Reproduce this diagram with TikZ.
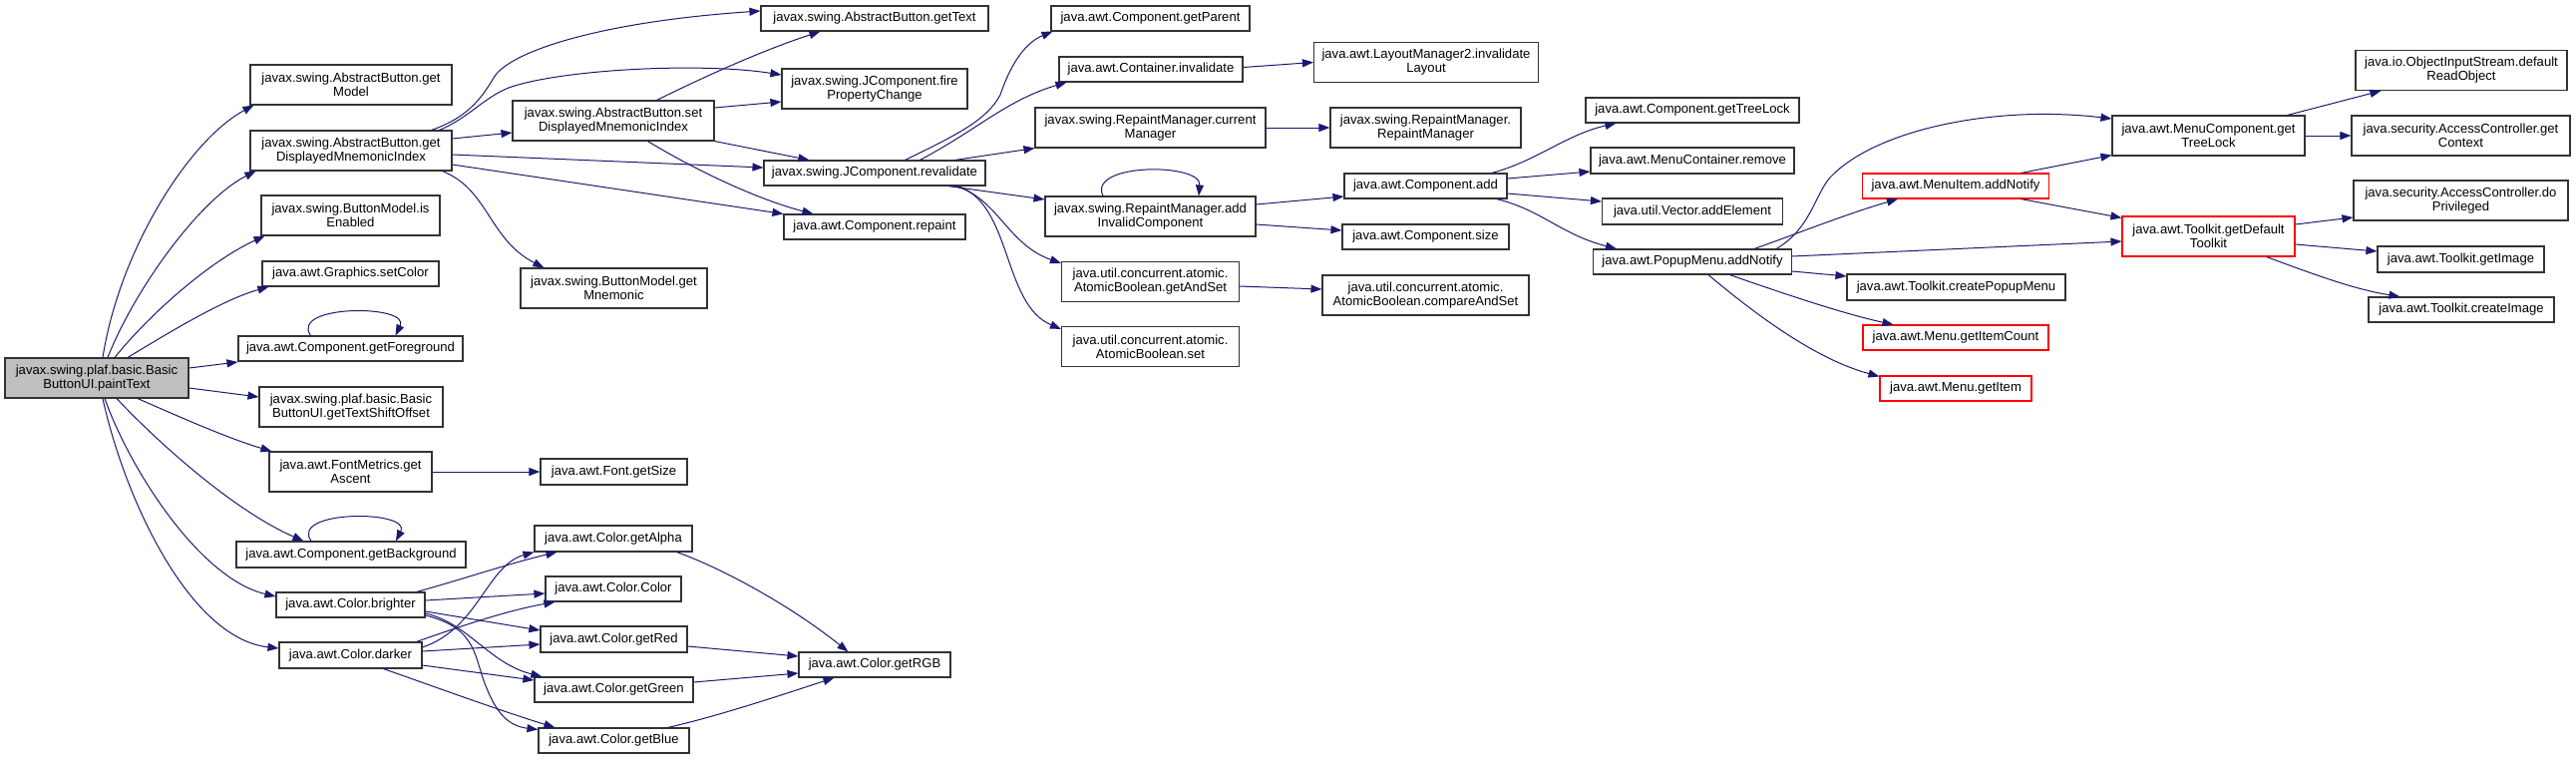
\documentclass[tikz,border=0pt]{standalone}
\usepackage{fontspec}
\setmainfont{Liberation Sans}
\usetikzlibrary{arrows.meta}
\definecolor{edgeblue}{HTML}{191970}
\definecolor{rootfill}{HTML}{BFBFBF}
\begin{document}
\begin{tikzpicture}[x=1pt,y=-1pt,
  box/.style={draw=black!80, line width=1.1pt, fill=white, inner sep=0pt, align=center,
    font=\fontsize{13.1pt}{14pt}\selectfont},
  redbox/.style={box, draw=red},
  edg/.style={draw=edgeblue, line width=1pt, -{Triangle[length=11pt,width=8pt]}}]
\useasboundingbox (0,0) rectangle (2583,761);
% column 1
\node[box, fill=rootfill, minimum width=184pt, minimum height=40pt] (root) at (97,379) {javax.swing.plaf.basic.Basic\\ButtonUI.paintText};
% column 2
\node[box, minimum width=202pt, minimum height=40pt] (getModel) at (352,85) {javax.swing.AbstractButton.get\\Model};
\node[box, minimum width=202pt, minimum height=40pt] (dmi) at (352,151) {javax.swing.AbstractButton.get\\DisplayedMnemonicIndex};
\node[box, minimum width=179pt, minimum height=40pt] (isEnabled) at (351.5,216) {javax.swing.ButtonModel.is\\Enabled};
\node[box, minimum width=177pt, minimum height=25pt] (setColor) at (351.5,274.5) {java.awt.Graphics.setColor};
\node[box, minimum width=225pt, minimum height=25pt] (getFg) at (351.5,349.5) {java.awt.Component.getForeground};
\node[box, minimum width=184pt, minimum height=40pt] (shift) at (352,408) {javax.swing.plaf.basic.Basic\\ButtonUI.getTextShiftOffset};
\node[box, minimum width=163pt, minimum height=40pt] (ascent) at (351.5,473) {java.awt.FontMetrics.get\\Ascent};
\node[box, minimum width=230pt, minimum height=26pt] (getBg) at (352,556) {java.awt.Component.getBackground};
\node[box, minimum width=149pt, minimum height=25pt] (brighter) at (351.5,606.5) {java.awt.Color.brighter};
\node[box, minimum width=143pt, minimum height=26pt] (darker) at (351.5,657) {java.awt.Color.darker};
% column 3
\node[box, minimum width=202pt, minimum height=40pt] (setDMI) at (615,121) {javax.swing.AbstractButton.set\\DisplayedMnemonicIndex};
\node[box, minimum width=187pt, minimum height=40pt] (getMnem) at (615.5,289) {javax.swing.ButtonModel.get\\Mnemonic};
\node[box, minimum width=147pt, minimum height=26pt] (getSize) at (615.5,473) {java.awt.Font.getSize};
\node[box, minimum width=158pt, minimum height=26pt] (getAlpha) at (615,540) {java.awt.Color.getAlpha};
\node[box, minimum width=136pt, minimum height=25pt] (colorColor) at (615,590.5) {java.awt.Color.Color};
\node[box, minimum width=147pt, minimum height=26pt] (getRed) at (615.5,641) {java.awt.Color.getRed};
\node[box, minimum width=159pt, minimum height=25pt] (getGreen) at (615.5,691.5) {java.awt.Color.getGreen};
\node[box, minimum width=151pt, minimum height=25pt] (getBlue) at (615.5,742.5) {java.awt.Color.getBlue};
% column 4
\node[box, minimum width=228pt, minimum height=25pt] (getText) at (877,18.5) {javax.swing.AbstractButton.getText};
\node[box, minimum width=186pt, minimum height=40pt] (fire) at (877,89) {javax.swing.JComponent.fire\\PropertyChange};
\node[box, minimum width=222pt, minimum height=25pt] (reval) at (877,173.5) {javax.swing.JComponent.revalidate};
\node[box, minimum width=182pt, minimum height=25pt] (repaint) at (877,227.5) {java.awt.Component.repaint};
\node[box, minimum width=152pt, minimum height=25pt] (getRGB) at (877,666.5) {java.awt.Color.getRGB};
% column 5
\node[box, minimum width=199pt, minimum height=25pt] (getParent) at (1153.5,18.5) {java.awt.Component.getParent};
\node[box, minimum width=184pt, minimum height=25pt] (contInv) at (1154,69.5) {java.awt.Container.invalidate};
\node[box, minimum width=231pt, minimum height=40pt] (curMgr) at (1153.5,128) {javax.swing.RepaintManager.current\\Manager};
\node[box, minimum width=211pt, minimum height=40pt] (addInv) at (1153.5,217) {javax.swing.RepaintManager.add\\InvalidComponent};
\node[box, minimum width=178pt, minimum height=40pt] (getAndSet) at (1153.5,282.5) {java.util.concurrent.atomic.\\AtomicBoolean.getAndSet};
\node[box, minimum width=178pt, minimum height=40pt] (abSet) at (1153.5,347.5) {java.util.concurrent.atomic.\\AtomicBoolean.set};
% column 6
\node[box, minimum width=225pt, minimum height=40pt] (layout) at (1430,62.5) {java.awt.LayoutManager2.invalidate\\Layout};
\node[box, minimum width=191pt, minimum height=40pt] (rmCtor) at (1429.5,128) {javax.swing.RepaintManager.\\RepaintManager};
\node[box, minimum width=163pt, minimum height=25pt] (compAdd) at (1429.5,186.5) {java.awt.Component.add};
\node[box, minimum width=167pt, minimum height=25pt] (compSize) at (1429.5,237.5) {java.awt.Component.size};
\node[box, minimum width=207pt, minimum height=40pt] (cas) at (1429.5,296) {java.util.concurrent.atomic.\\AtomicBoolean.compareAndSet};
% column 7
\node[box, minimum width=214pt, minimum height=25pt] (treeLock) at (1697,110.5) {java.awt.Component.getTreeLock};
\node[box, minimum width=204pt, minimum height=26pt] (mcRemove) at (1697,161) {java.awt.MenuContainer.remove};
\node[box, minimum width=181pt, minimum height=26pt] (addElem) at (1697,212) {java.util.Vector.addElement};
\node[box, minimum width=199pt, minimum height=25pt] (popup) at (1697,262.5) {java.awt.PopupMenu.addNotify};
% column 8
\node[redbox, minimum width=187pt, minimum height=25pt] (miAdd) at (1961,186.5) {java.awt.MenuItem.addNotify};
\node[box, minimum width=219pt, minimum height=26pt] (createPopup) at (1961.5,288) {java.awt.Toolkit.createPopupMenu};
\node[redbox, minimum width=186pt, minimum height=25pt] (itemCount) at (1961,338.5) {java.awt.Menu.getItemCount};
\node[redbox, minimum width=152pt, minimum height=25pt] (getItem) at (1961,389.5) {java.awt.Menu.getItem};
% column 9
\node[box, minimum width=193pt, minimum height=40pt] (mcTree) at (2214.5,136) {java.awt.MenuComponent.get\\TreeLock};
\node[redbox, minimum width=173pt, minimum height=40pt] (defTk) at (2214.5,237) {java.awt.Toolkit.getDefault\\Toolkit};
% column 10
\node[box, minimum width=212pt, minimum height=40pt] (readObj) at (2468,70.5) {java.io.ObjectInputStream.default\\ReadObject};
\node[box, minimum width=219pt, minimum height=40pt] (getCtx) at (2467.5,136) {java.security.AccessController.get\\Context};
\node[box, minimum width=215pt, minimum height=40pt] (doPriv) at (2467.5,201) {java.security.AccessController.do\\Privileged};
\node[box, minimum width=167pt, minimum height=26pt] (getImage) at (2467.5,260) {java.awt.Toolkit.getImage};
\node[box, minimum width=186pt, minimum height=25pt] (createImage) at (2468,310.5) {java.awt.Toolkit.createImage};

% edges from root
\draw[edg] ([xshift=6pt]root.north) .. controls (120,250) and (190,140) .. ([xshift=4pt]getModel.south west);
\draw[edg] ([xshift=11pt]root.north) .. controls (135,290) and (200,200) .. ([xshift=6pt]dmi.south west);
\draw[edg] ([xshift=18pt]root.north) .. controls (150,315) and (210,262) .. ([xshift=4pt]isEnabled.south west);
\draw[edg] ([xshift=31pt]root.north) .. controls (175,330) and (225,300) .. ([xshift=7pt]setColor.south west);
\draw[edg] ([yshift=10pt]root.east) -- ([yshift=-13.5pt]getFg.west);
\draw[edg] ([yshift=-10pt]root.east) -- ([yshift=10pt]shift.west);
\draw[edg] ([xshift=41pt]root.south) .. controls (180,418) and (230,440) .. ([xshift=3pt]ascent.north west);
\draw[edg] ([xshift=20pt]root.south) .. controls (150,435) and (230,510) .. ([xshift=68pt]getBg.north west);
\draw[edg] ([xshift=8pt]root.south) .. controls (130,470) and (200,580) .. ([yshift=8.5pt]brighter.west);
\draw[edg] ([xshift=6pt]root.south) .. controls (125,500) and (190,640) .. ([yshift=7pt]darker.west);
% self loops
\draw[edg] ([xshift=-40pt]getFg.north) .. controls (290,305) and (412,305) .. ([xshift=45pt]getFg.north);
\draw[edg] ([xshift=-40pt]getBg.north) .. controls (290,511) and (413,511) .. ([xshift=45pt]getBg.north);
\draw[edg] ([xshift=-47.5pt]addInv.north) .. controls (1090,163) and (1205,163) .. ([xshift=48.5pt]addInv.north);
% getDisplayedMnemonicIndex
\draw[edg] ([xshift=-21pt]dmi.north east) .. controls (468,118) and (482,100) .. (495,78) .. controls (510,52) and (600,22) .. ([yshift=7.5pt]getText.west);
\draw[edg] ([xshift=-13pt]dmi.north east) .. controls (470,118) and (485,98) .. (510,88) .. controls (560,70) and (700,62) .. ([yshift=14pt]fire.west);
\draw[edg] ([yshift=12pt]dmi.east) -- ([yshift=-12pt]setDMI.west);
\draw[edg] ([yshift=-4pt]dmi.east) -- ([yshift=5.5pt]reval.west);
\draw[edg] ([yshift=-14pt]dmi.east) -- (repaint.north west);
\draw[edg] ([xshift=-10pt]dmi.south east) .. controls (490,190) and (490,240) .. ([xshift=24pt]getMnem.north west);
% setDisplayedMnemonicIndex
\draw[edg] ([xshift=145pt]setDMI.north west) .. controls (700,80) and (760,52) .. ([xshift=60pt]getText.south west);
\draw[edg] ([yshift=13pt]setDMI.east) -- ([yshift=-13pt]fire.west);
\draw[edg] (setDMI.south east) -- ([xshift=46pt]reval.north west);
\draw[edg] ([xshift=136pt]setDMI.south west) .. controls (700,172) and (760,200) .. ([xshift=30pt]repaint.north west);
% revalidate
\draw[edg] ([xshift=142pt]reval.north west) .. controls (960,135) and (990,120) .. (1003,95) .. controls (1015,60) and (1030,42) .. ([xshift=2pt]getParent.south west);
\draw[edg] ([xshift=157pt]reval.north west) .. controls (980,130) and (1010,100) .. ([xshift=8pt]contInv.south west);
\draw[edg] ([xshift=-31pt]reval.north east) -- (curMgr.south west);
\draw[edg] ([xshift=-38pt]reval.south east) -- ([yshift=17pt]addInv.west);
\draw[edg] ([xshift=-31pt]reval.south east) .. controls (1000,198) and (1010,245) .. ([yshift=-2pt]getAndSet.north west);
\draw[edg] ([xshift=-28pt]reval.south east) .. controls (1015,205) and (1005,305) .. ([yshift=-3pt]abSet.north west);
% column 5 -> 6
\draw[edg] ([yshift=2pt]contInv.east) -- (layout.west);
\draw[edg] (curMgr.east) -- (rmCtor.west);
\draw[edg] ([yshift=12pt]addInv.east) -- ([yshift=-10.5pt]compAdd.west);
\draw[edg] ([yshift=-8pt]addInv.east) -- ([yshift=6.5pt]compSize.west);
\draw[edg] ([yshift=-4.5pt]getAndSet.east) -- ([yshift=6pt]cas.west);
% Component.add
\draw[edg] ([xshift=-16pt]compAdd.north east) .. controls (1540,162) and (1570,135) .. ([xshift=31pt]treeLock.south west);
\draw[edg] ([yshift=7.5pt]compAdd.east) -- ([yshift=-11pt]mcRemove.west);
\draw[edg] ([yshift=-7.5pt]compAdd.east) -- ([yshift=10pt]addElem.west);
\draw[edg] ([xshift=-11pt]compAdd.south east) .. controls (1545,210) and (1565,235) .. ([xshift=24pt]popup.north west);
% PopupMenu.addNotify
\draw[edg] ([xshift=-16pt]popup.north east) .. controls (1815,230) and (1820,195) .. (1835,178) .. controls (1880,130) and (2000,105) .. ([yshift=17pt]mcTree.west);
\draw[edg] ([xshift=-38pt]popup.north east) .. controls (1800,235) and (1850,215) .. ([xshift=36pt]miAdd.south west);
\draw[edg] ([yshift=5.5pt]popup.east) -- ([yshift=-5pt]defTk.west);
\draw[edg] ([yshift=-9.5pt]popup.east) -- ([yshift=11pt]createPopup.west);
\draw[edg] ([xshift=137.5pt]popup.south west) .. controls (1790,295) and (1850,315) .. ([xshift=31pt]itemCount.north west);
\draw[edg] ([xshift=116pt]popup.south west) .. controls (1760,315) and (1820,360) .. ([yshift=-1pt]getItem.north west);
% MenuItem.addNotify
\draw[edg] ([xshift=-28.5pt]miAdd.north east) -- ([yshift=1pt]mcTree.south west);
\draw[edg] ([xshift=-28.5pt]miAdd.south east) -- ([yshift=-2pt]defTk.north west);
% MenuComponent.getTreeLock
\draw[edg] ([xshift=-18pt]mcTree.north east) -- ([xshift=26pt]readObj.south west);
\draw[edg] (mcTree.east) -- (getCtx.west);
% Toolkit.getDefaultToolkit
\draw[edg] ([yshift=12pt]defTk.east) -- ([yshift=-17pt]doPriv.west);
\draw[edg] ([yshift=-8pt]defTk.east) -- ([yshift=8pt]getImage.west);
\draw[edg] ([xshift=-29pt]defTk.south east) .. controls (2320,275) and (2360,290) .. ([xshift=32pt]createImage.north west);
% FontMetrics
\draw[edg] (ascent.east) -- (getSize.west);
% brighter / darker
\draw[edg] ([xshift=-9pt]brighter.north east) .. controls (460,582) and (510,565) .. ([xshift=23pt]getAlpha.south west);
\draw[edg] ([yshift=8pt]darker.east) .. controls (480,630) and (488,567) .. (getAlpha.south west);
\draw[edg] ([yshift=4.5pt]brighter.east) -- ([yshift=-4.5pt]colorColor.west);
\draw[edg] ([xshift=-6pt]darker.north east) .. controls (470,625) and (510,612) .. ([xshift=10pt]colorColor.south west);
\draw[edg] ([yshift=-6.5pt]brighter.east) -- ([yshift=9pt]getRed.west);
\draw[edg] ([yshift=4pt]darker.east) -- ([yshift=-5pt]getRed.west);
\draw[edg] ([yshift=-8.5pt]brighter.east) .. controls (470,625) and (490,665) .. ([xshift=8pt]getGreen.north west);
\draw[edg] ([yshift=-10pt]darker.east) -- ([yshift=9.5pt]getGreen.west);
\draw[edg] ([yshift=-10.5pt]brighter.east) .. controls (480,630) and (475,660) .. (488,690) .. controls (498,715) and (510,728) .. ([yshift=-2pt]getBlue.north west);
\draw[edg] ([xshift=105pt]darker.south west) .. controls (440,690) and (500,712) .. ([xshift=17pt]getBlue.north west);
% to getRGB
\draw[edg] ([xshift=-16pt]getAlpha.south east) .. controls (720,568) and (790,605) .. ([xshift=50pt]getRGB.north west);
\draw[edg] ([yshift=-7pt]getRed.east) -- ([yshift=8.5pt]getRGB.west);
\draw[edg] ([yshift=7.5pt]getGreen.east) -- ([yshift=-8.5pt]getRGB.west);
\draw[edg] ([xshift=-22pt]getBlue.north east) .. controls (720,718) and (780,698) .. ([xshift=36pt]getRGB.south west);
\end{tikzpicture}
\end{document}
